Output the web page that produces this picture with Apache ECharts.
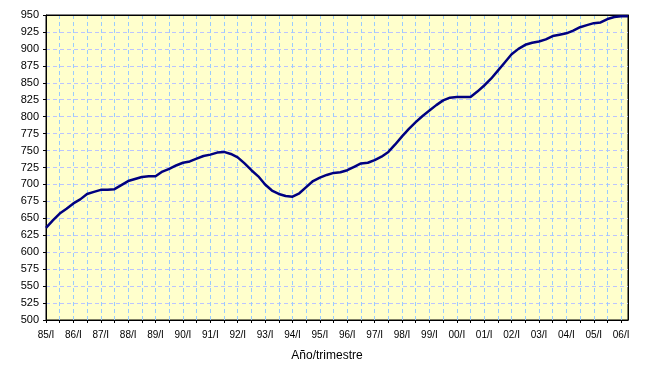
<!DOCTYPE html>
<html>
<head>
<meta charset="utf-8">
<script src="https://cdn.jsdelivr.net/npm/echarts@6/dist/echarts.min.js"></script>
<style>html,body{margin:0;padding:0;background:#fff}#c{width:649px;height:375px}</style>
</head>
<body>
<div id="c"></div>
<script>
// Years and quarters (85/I ... 06/II)
var years = ['85','86','87','88','89','90','91','92','93','94','95','96','97','98','99','00','01','02','03','04','05','06'];
var quarters = ['I','II','III','IV'];
var categories = [];
years.forEach(function (y) { quarters.forEach(function (q) { categories.push(y + '/' + q); }); });
categories = categories.slice(0, 86);

// Series values (one per quarter)
var values = [
  636, 647, 657, 664, 672, 678, 686, 689, 692, 692,
  693, 699, 705, 708, 711, 712, 712, 719, 723, 728,
  732, 734, 738, 742, 744, 747, 748, 745, 740, 731,
  721, 712, 700, 691, 686, 683, 682, 687, 696, 705,
  710, 714, 717, 718, 721, 726, 731, 732, 736, 741,
  748, 759, 771, 782, 792, 801, 809, 817, 824, 828,
  829, 829, 829, 837, 846, 856, 868, 880, 892, 900,
  906, 909, 911, 914, 919, 921, 923, 927, 932, 935,
  938, 939, 944, 947, 948, 948
];

var yTicks = { min: 500, max: 950, step: 25 };

var chart = echarts.init(document.getElementById('c'), null, { renderer: 'canvas' });
chart.setOption({
  animation: false,
  backgroundColor: '#ffffff',
  grid: {
    left: 46, right: 21, top: 15, bottom: 55,
    show: true, backgroundColor: '#FFFFCC', borderColor: '#000000', borderWidth: 1
  },
  xAxis: [{
    type: 'category',
    data: categories,
    boundaryGap: false,
    name: 'Año/trimestre',
    nameLocation: 'middle',
    nameGap: 30,
    nameTextStyle: { fontFamily: 'Liberation Sans', fontSize: 12, color: '#000', padding: [0, 20, 0, 0] },
    axisLine: { lineStyle: { color: '#000', width: 1 } },
    axisTick: { interval: 1, length: 3, lineStyle: { color: '#000' } },
    axisLabel: { interval: 3, margin: 10, fontFamily: 'Liberation Sans', fontSize: 10, color: '#000' },
    splitLine: { show: true, interval: 1, lineStyle: { color: '#99CCFF', type: [4, 3], width: 1 } }
  }, {
    type: 'category',
    data: categories,
    boundaryGap: false,
    position: 'top',
    axisLine: { show: true, onZero: false, lineStyle: { color: '#000', width: 1 } },
    axisTick: { show: false },
    axisLabel: { show: false },
    splitLine: { show: false }
  }],
  yAxis: [{
    type: 'value',
    min: yTicks.min, max: yTicks.max, interval: yTicks.step,
    axisLine: { show: true, lineStyle: { color: '#000', width: 1 } },
    axisTick: { show: true, length: 3, lineStyle: { color: '#000' } },
    axisLabel: { margin: 7, fontFamily: 'Liberation Sans', fontSize: 11, color: '#000' },
    splitLine: { show: true, lineStyle: { color: '#BBC4FF', type: [4, 3], width: 1 } }
  }, {
    type: 'value',
    position: 'right',
    min: yTicks.min, max: yTicks.max, interval: yTicks.step,
    axisLine: { show: true, onZero: false, lineStyle: { color: '#000', width: 1 } },
    axisTick: { show: false },
    axisLabel: { show: false },
    splitLine: { show: false }
  }],
  series: [{
    type: 'line',
    data: values,
    xAxisIndex: 0,
    yAxisIndex: 0,
    showSymbol: false,
    smooth: false,
    lineStyle: { color: '#000080', width: 2.5 },
    itemStyle: { color: '#000080' }
  }]
});
</script>
</body>
</html>
